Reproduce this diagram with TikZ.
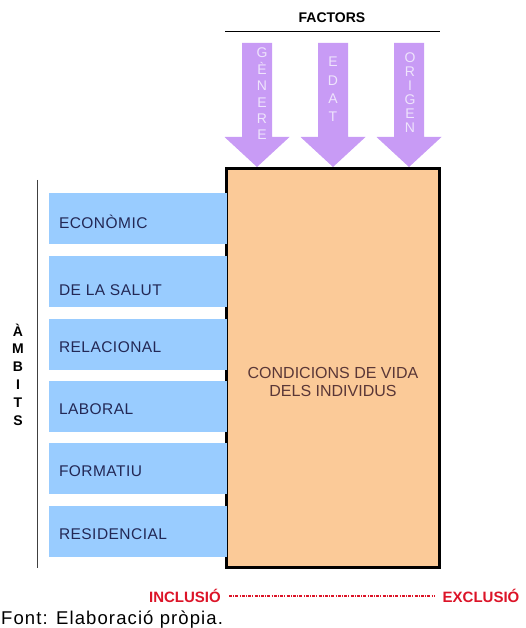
\documentclass[tikz,border=0pt]{standalone}
\usepackage{fontspec}
\setmainfont{Liberation Sans}
\newfontfamily\spacedfont[LetterSpace=6]{Liberation Sans}
\newfontfamily\boxfont[LetterSpace=3]{Liberation Sans}
\definecolor{peach}{RGB}{251,202,152}
\definecolor{skyb}{RGB}{153,204,255}
\definecolor{navy}{RGB}{35,40,85}
\definecolor{lav}{RGB}{200,155,245}
\definecolor{lavtxt}{RGB}{238,228,252}
\definecolor{brownt}{RGB}{90,55,55}
\definecolor{redt}{RGB}{220,20,40}
\tikzset{
  bbox/.style={fill=skyb, minimum width=178pt, minimum height=51pt, inner sep=0pt, draw=none},
  btext/.style={anchor=west, inner sep=0pt, text=navy, font=\boxfont\fontsize{15.5}{18}\selectfont},
  arrtxt/.style={anchor=base, inner sep=0pt, text=lavtxt, font=\fontsize{14}{16}\selectfont},
  ambtxt/.style={anchor=base, inner sep=0pt, font=\bfseries\fontsize{14}{16}\selectfont},
  redtxt/.style={inner sep=0pt, text=redt, font=\bfseries\fontsize{15}{18}\selectfont},
  farrow/.style={fill=lav, draw=none}
}
\begin{document}
\begin{tikzpicture}[x=1pt,y=-1pt]
\useasboundingbox (0,0) rectangle (525,628);
% title
\node[inner sep=0pt, font=\bfseries\fontsize{14}{16}\selectfont] (factors) at (332,18) {FACTORS};
\coordinate (fl) at (225,32);
\coordinate (fr) at (440,32);
\draw[line width=1pt] (fl) -- (fr);
% arrows
\foreach \cx/\nm in {257/a1,333/a2,409/a3}{
  \fill[farrow] (\cx-15,43) -- (\cx+15,43) -- (\cx+15,137) -- (\cx+32.5,137) -- (\cx,167) -- (\cx-32.5,137) -- (\cx-15,137) -- cycle;
}
\foreach \l [count=\i from 0] in {G,È,N,E,R,E}
  \node[arrtxt] (ga\i) at (262, 53+5+16.4*\i) {\l};
\foreach \l [count=\i from 0] in {E,D,A,T}
  \node[arrtxt] (ed\i) at (333, 62+5+18.3*\i) {\l};
\foreach \l [count=\i from 0] in {O,R,I,G,E,N}
  \node[arrtxt] (or\i) at (410, 58+5+14*\i) {\l};
% main box
\node[draw, line width=3pt, fill=peach, minimum width=213pt, minimum height=399pt, inner sep=0pt] (main) at (333,368) {};
\node[inner sep=0pt, align=center, text=brownt, font=\fontsize{16}{18}\selectfont] (mtext) at (333,382) {CONDICIONS DE VIDA\\DELS INDIVIDUS};
% blue boxes
\node[bbox] (b1) at (138,218.5) {};
\node[bbox] (b2) at (138,281.5) {};
\node[bbox] (b3) at (138,344.5) {};
\node[bbox] (b4) at (138,406.5) {};
\node[bbox] (b5) at (138,468.5) {};
\node[bbox] (b6) at (138,531.5) {};
\node[btext] (t1) at ([xshift=10pt,yshift=-3pt]b1.west) {ECONÒMIC};
\node[btext] (t2) at ([xshift=10pt,yshift=-9pt]b2.west) {DE LA SALUT};
\node[btext] (t3) at ([xshift=10pt,yshift=-3pt]b3.west) {RELACIONAL};
\node[btext] (t4) at ([xshift=10pt,yshift=-3pt]b4.west) {LABORAL};
\node[btext] (t5) at ([xshift=10pt,yshift=-3pt]b5.west) {FORMATIU};
\node[btext] (t6) at ([xshift=10pt,yshift=-3pt]b6.west) {RESIDENCIAL};
% ambits line and label
\coordinate (vt) at (37,180);
\coordinate (vb) at (37,568);
\draw[line width=0.9pt, black!75] (vt) -- (vb);
\foreach \l [count=\i from 0] in {À,M,B,I,T,S}
  \node[ambtxt] (am\i) at (18, 331+5+17.8*\i) {\l};
% inclusion / exclusion
\node[redtxt] (inc) at (185,596) {INCLUSIÓ};
\node[redtxt] (exc) at (481,596) {EXCLUSIÓ};
\draw[redt, line width=1.5pt, dash pattern=on 3pt off 1.2pt on 1pt off 1.2pt] ([xshift=8pt]inc.east) -- ([xshift=-8pt]exc.west);
% source
\node[anchor=base west, inner sep=0pt, font=\spacedfont\fontsize{18.5}{20}\selectfont] (src) at (1,624) {Font: Elaboració pròpia.};
\end{tikzpicture}
\end{document}
